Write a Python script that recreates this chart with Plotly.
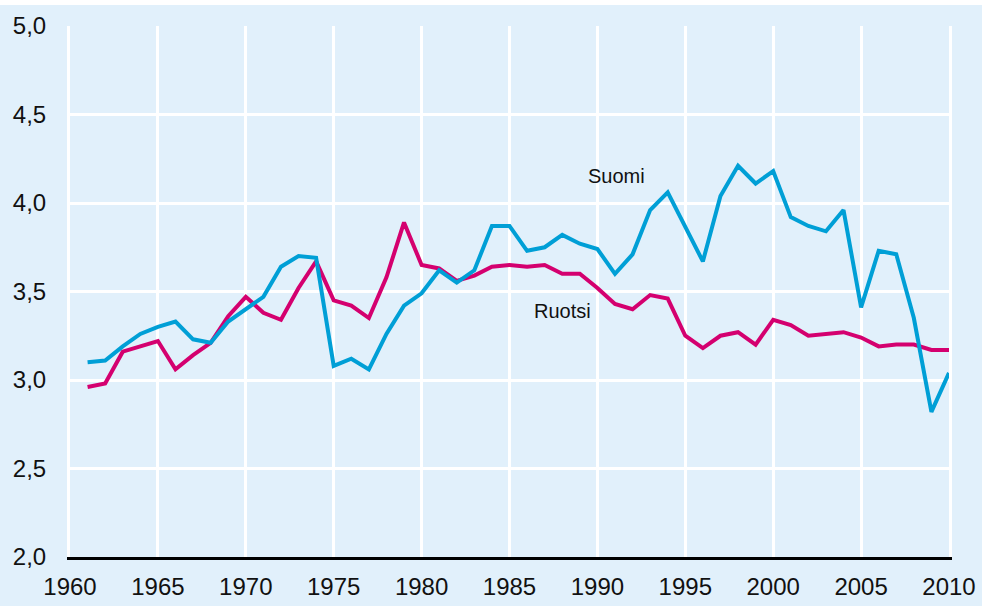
import plotly.graph_objects as go

years = list(range(1961, 2011))
suomi = [3.10, 3.11, 3.19, 3.26, 3.30, 3.33, 3.23, 3.21, 3.33, 3.40,
         3.47, 3.64, 3.70, 3.69, 3.08, 3.12, 3.06, 3.26, 3.42, 3.49,
         3.62, 3.55, 3.62, 3.87, 3.87, 3.73, 3.75, 3.82, 3.77, 3.74,
         3.60, 3.71, 3.96, 4.06, 3.87, 3.67, 4.04, 4.21, 4.11, 4.18,
         3.92, 3.87, 3.84, 3.96, 3.41, 3.73, 3.71, 3.35, 2.82, 3.04]
ruotsi = [2.96, 2.98, 3.16, 3.19, 3.22, 3.06, 3.14, 3.21, 3.36, 3.47,
          3.38, 3.34, 3.52, 3.67, 3.45, 3.42, 3.35, 3.58, 3.89, 3.65,
          3.63, 3.56, 3.59, 3.64, 3.65, 3.64, 3.65, 3.60, 3.60, 3.52,
          3.43, 3.40, 3.48, 3.46, 3.25, 3.18, 3.25, 3.27, 3.20, 3.34,
          3.31, 3.25, 3.26, 3.27, 3.24, 3.19, 3.20, 3.20, 3.17, 3.17]
series_names = ["Suomi", "Ruotsi"]
x_ticks = [1960, 1965, 1970, 1975, 1980, 1985, 1990, 1995, 2000, 2005, 2010]
y_ticks = [2.0, 2.5, 3.0, 3.5, 4.0, 4.5, 5.0]

BG = "#e1f0fb"
BLUE = "#009fd6"
MAGENTA = "#d4006f"
FONT = "Liberation Sans, Arial, sans-serif"

fig = go.Figure()
fig.add_trace(go.Scatter(x=years, y=ruotsi, mode="lines", name=series_names[1],
                         line=dict(color=MAGENTA, width=4), showlegend=False))
fig.add_trace(go.Scatter(x=years, y=suomi, mode="lines", name=series_names[0],
                         line=dict(color=BLUE, width=4), showlegend=False))

fig.add_annotation(x=1991.1, y=4.15, text=series_names[0], showarrow=False,
                   font=dict(size=20, color="#111111", family=FONT))
fig.add_annotation(x=1988.0, y=3.39, text=series_names[1], showarrow=False,
                   font=dict(size=20, color="#111111", family=FONT))

# white strip at very top, light-blue background below
fig.add_shape(type="rect", xref="paper", yref="paper", x0=-1, x1=2,
              y0=-0.3, y1=1.0395, fillcolor=BG, line=dict(width=0), layer="below")

fig.update_layout(
    width=982, height=606,
    margin=dict(l=70, r=33, t=26, b=49, autoexpand=False),
    paper_bgcolor="white",
    plot_bgcolor=BG,
    separators=", ",
    font=dict(family=FONT, color="#111111"),
    xaxis=dict(range=[1960, 2010], tickvals=x_ticks, tickformat="d",
               showgrid=True, gridcolor="white", gridwidth=3,
               showline=True, linecolor="black", linewidth=3,
               ticks="", tickfont=dict(size=24), ticklabelstandoff=6,
               zeroline=False, fixedrange=True, automargin=False),
    yaxis=dict(range=[2, 5], tickvals=y_ticks, tickformat=".1f",
               showgrid=True, gridcolor="white", gridwidth=3,
               showline=True, linecolor="white", linewidth=3, mirror=True,
               ticks="", tickfont=dict(size=24), ticklabelstandoff=16,
               zeroline=False, fixedrange=True, automargin=False),
)

fig.write_html("out.html", config={"displayModeBar": False},
               post_script="document.body.style.margin='0';document.body.style.overflow='hidden';")
